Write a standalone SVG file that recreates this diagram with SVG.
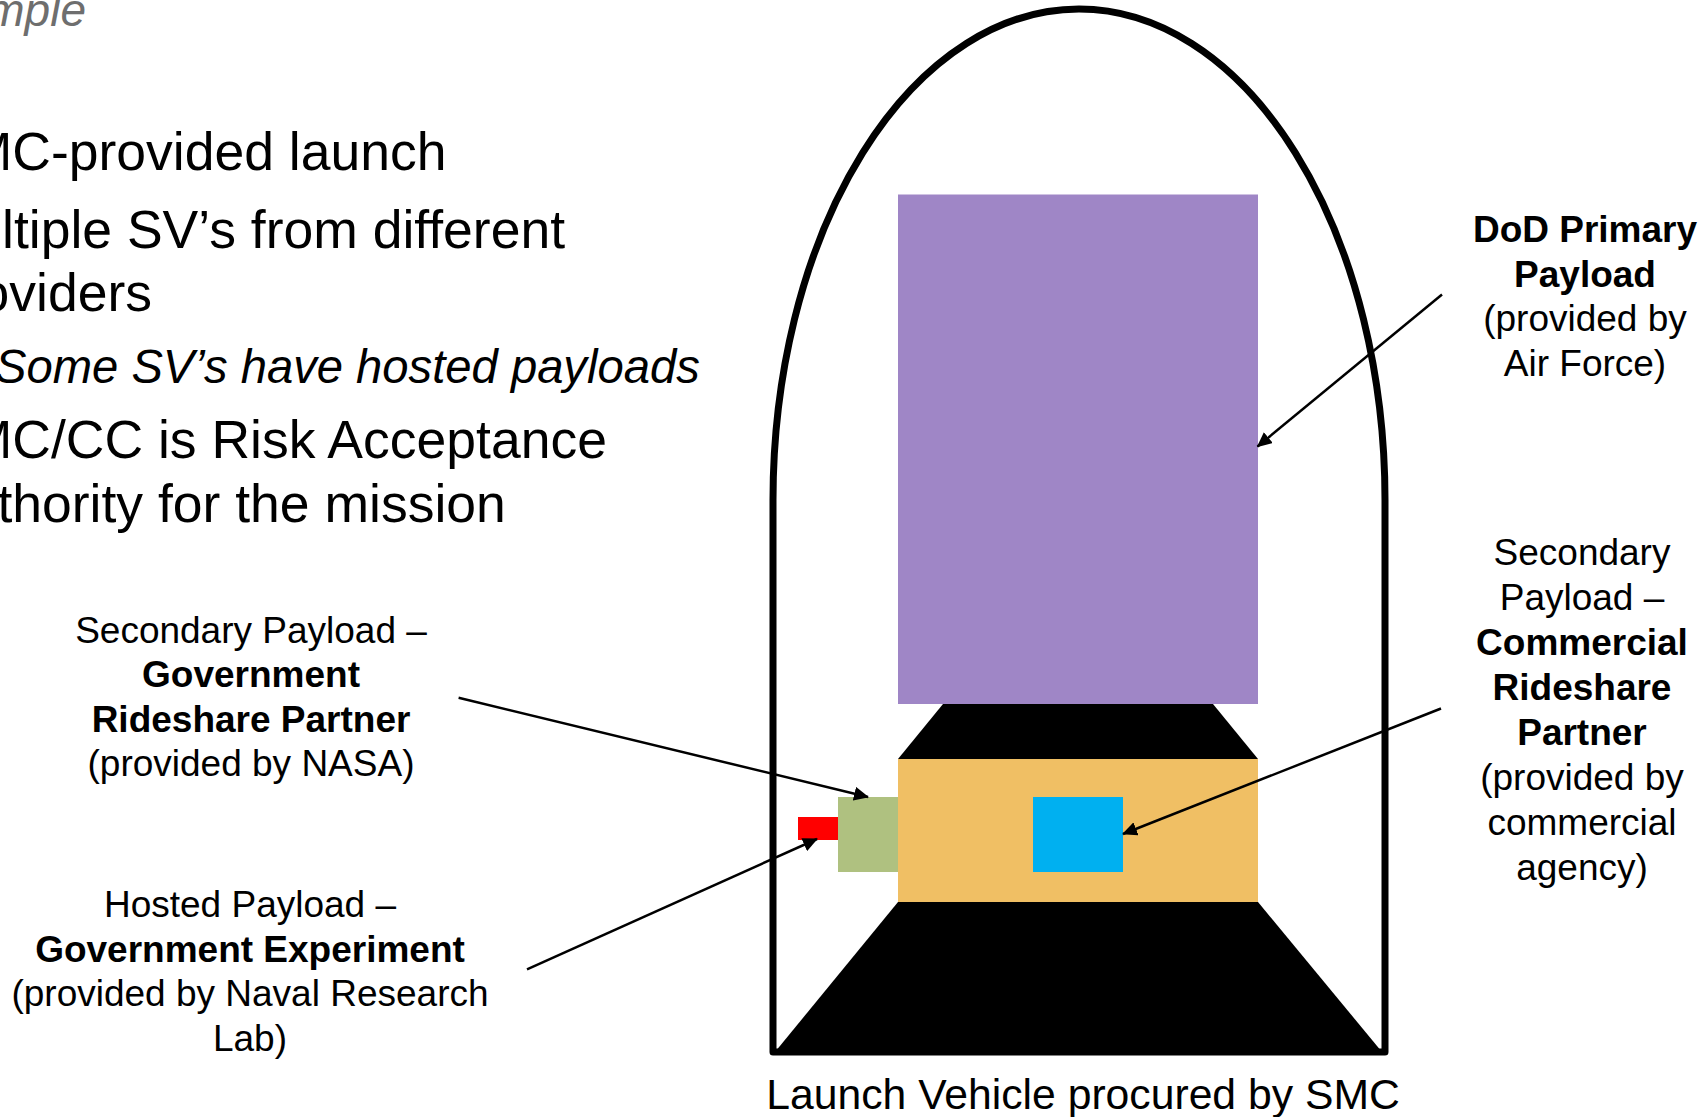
<svg xmlns="http://www.w3.org/2000/svg" width="1704" height="1117" viewBox="0 0 1704 1117">
<defs>
<style>
text{font-family:"Liberation Sans",Arial,sans-serif;fill:#000}
.b{font-size:53.5px}
.sub{font-size:47.2px;font-style:italic}
.title{font-size:46px;font-style:italic;fill:#6e6e6e}
.lbl{font-size:37px;text-anchor:middle}
.bold{font-weight:bold}
.conn{stroke:#000;stroke-width:2.5;fill:none;marker-end:url(#ah)}
</style>
<marker id="ah" markerUnits="userSpaceOnUse" viewBox="0 0 15 14" markerWidth="15" markerHeight="14" refX="14" refY="7" orient="auto">
<path d="M0,0 L15,7 L0,14 z" fill="#000"/>
</marker>
</defs>
<rect width="1704" height="1117" fill="#fff"/>

<g id="title">
<text class="title" x="86" y="26" text-anchor="end">mple</text>
</g>

<g id="bullets">
<text class="b" x="-32.3" y="170">MC-provided launch</text>
<text class="b" x="2" y="248">ltiple SV’s from different</text>
<text class="b" x="-20.4" y="311">oviders</text>
<text class="sub" x="-5" y="382.5">Some SV’s have hosted payloads</text>
<text class="b" x="-32.3" y="457.5">MC/CC is Risk Acceptance</text>
<text class="b" x="-2.6" y="521.5">thority for the mission</text>
</g>

<g id="fairing">
<path d="M773,1052 L773,500 A306,491 0 0 1 1385,500 L1385,1052 Z" fill="none" stroke="#000" stroke-width="7" stroke-linejoin="round"/>
</g>

<g id="primary-payload">
<rect x="898" y="194.5" width="360" height="509.5" fill="#9F86C6"/>
</g>
<g id="upper-adapter">
<polygon points="943,704 1213,704 1258,759 898,759" fill="#000"/>
</g>
<g id="bus">
<rect x="898" y="759" width="360" height="143" fill="#F0BF64"/>
</g>
<g id="lower-adapter">
<polygon points="898,902 1258,902 1382,1052 775,1052" fill="#000"/>
</g>
<g id="commercial-payload">
<rect x="1033" y="797" width="90" height="75" fill="#00B0F0"/>
</g>
<g id="gov-rideshare">
<rect x="838" y="797" width="60" height="75" fill="#AFC180"/>
</g>
<g id="hosted-payload">
<rect x="798" y="817" width="40" height="23" fill="#FF0000"/>
</g>

<g id="connectors">
<line class="conn" x1="1442" y1="294.5" x2="1257.5" y2="446.5"/>
<line class="conn" x1="458.6" y1="697.7" x2="868" y2="797"/>
<line class="conn" x1="527" y1="969.3" x2="817" y2="839"/>
<line class="conn" x1="1441" y1="708.5" x2="1123" y2="834"/>
</g>

<g id="label-primary">
<text class="lbl bold" x="1585" y="242">DoD Primary</text>
<text class="lbl bold" x="1585" y="287">Payload</text>
<text class="lbl" x="1585" y="331">(provided by</text>
<text class="lbl" x="1585" y="376">Air Force)</text>
</g>

<g id="label-commercial">
<text class="lbl" x="1582" y="565">Secondary</text>
<text class="lbl" x="1582" y="610">Payload –</text>
<text class="lbl bold" x="1582" y="655">Commercial</text>
<text class="lbl bold" x="1582" y="700">Rideshare</text>
<text class="lbl bold" x="1582" y="745">Partner</text>
<text class="lbl" x="1582" y="790">(provided by</text>
<text class="lbl" x="1582" y="835">commercial</text>
<text class="lbl" x="1582" y="880">agency)</text>
</g>

<g id="label-gov-rideshare">
<text class="lbl" x="251" y="642.5">Secondary Payload –</text>
<text class="lbl bold" x="251" y="687">Government</text>
<text class="lbl bold" x="251" y="731.5">Rideshare Partner</text>
<text class="lbl" x="251" y="776">(provided by NASA)</text>
</g>

<g id="label-hosted">
<text class="lbl" x="250" y="917">Hosted Payload –</text>
<text class="lbl bold" x="250" y="961.5">Government Experiment</text>
<text class="lbl" x="250" y="1006">(provided by Naval Research</text>
<text class="lbl" x="250" y="1050.5">Lab)</text>
</g>

<g id="caption">
<text x="1083" y="1109" font-size="42.7" text-anchor="middle">Launch Vehicle procured by SMC</text>
</g>
</svg>
